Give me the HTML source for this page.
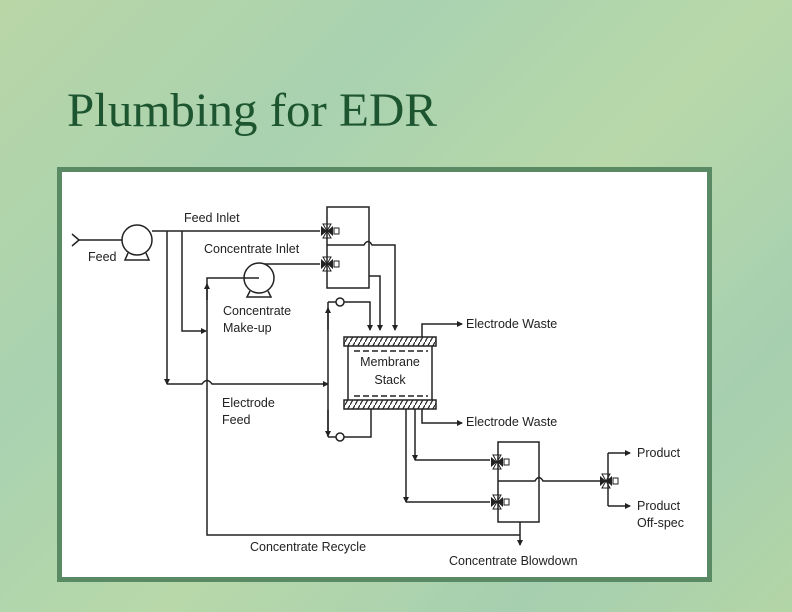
<!DOCTYPE html>
<html><head><style>
html,body{margin:0;padding:0;width:792px;height:612px;overflow:hidden}
body{background:linear-gradient(135deg,#b9d6a6 0%,#a9d2b0 30%,#b8d8a9 55%,#a6cfb0 80%,#b3d5a6 100%)}
</style></head><body>
<svg width="792" height="612" viewBox="0 0 792 612" xmlns="http://www.w3.org/2000/svg" style="position:absolute;left:0;top:0">
<defs>
<pattern id="h" width="5" height="9" patternUnits="userSpaceOnUse"><rect width="5" height="9" fill="#fff"/><line x1="0" y1="9" x2="5" y2="0" stroke="#222" stroke-width="1.2"/></pattern>
<marker id="a" markerWidth="6" markerHeight="6" refX="5" refY="3" orient="auto" markerUnits="userSpaceOnUse"><path d="M0,0 L6,3 L0,6 z" fill="#222"/></marker>
<g id="v"><path d="M-6,-5 L6,5 L6,-5 L-6,5 z" fill="#222"/><path d="M-4,-7 L4,-7 L0,0 z M-4,7 L4,7 L0,0z" fill="none" stroke="#222" stroke-width="1"/><rect x="7" y="-3" width="5" height="6" fill="#fff" stroke="#222"/></g>
</defs>
<text x="67" y="126" font-family="Liberation Serif, serif" font-size="48" fill="#1d5530" textLength="370" lengthAdjust="spacingAndGlyphs">Plumbing for EDR</text>
<rect x="59.5" y="169.5" width="650" height="410" fill="#fff" stroke="#5a8a63" stroke-width="5"/>
<g stroke="#222" stroke-width="1.5" fill="none">
<path d="M72,234 L79,240 L72,246"/><line x1="79" y1="240" x2="137" y2="240"/>
<circle cx="137" cy="240" r="15" fill="#fff"/><path d="M128,253 L125,260 L149,260 L146,253"/>
<line x1="152" y1="231" x2="320" y2="231"/>
<rect x="327" y="207" width="42" height="81"/>
<path d="M327,245 L364,245 Q368,238 372,245 L395,245 L395,330" marker-end="url(#a)"/>
<path d="M369,276 L380,276 L380,330" marker-end="url(#a)"/>
<line x1="259" y1="264" x2="320" y2="264"/>
<circle cx="259" cy="278" r="15" fill="#fff"/><path d="M250,291 L247,297 L271,297 L268,291"/>
<path d="M259,278 L207,278 L207,535 L520,535"/>
<path d="M207,300 L207,284" marker-end="url(#a)"/>
<path d="M182,231 L182,331 L206,331" marker-end="url(#a)"/>
<path d="M167,231 L167,384" marker-end="url(#a)"/>
<path d="M167,384 L202,384 Q207,377 212,384 L328,384" marker-end="url(#a)"/>
<line x1="328" y1="302" x2="328" y2="437"/>
<path d="M328,330 L328,308" marker-end="url(#a)"/><path d="M328,410 L328,436" marker-end="url(#a)"/>
<line x1="328" y1="302" x2="336" y2="302"/><circle cx="340" cy="302" r="4" fill="#fff"/>
<path d="M344,302 L370,302 L370,330" marker-end="url(#a)"/>
<line x1="328" y1="437" x2="336" y2="437"/><circle cx="340" cy="437" r="4" fill="#fff"/>
<path d="M344,437 L371,437 L371,409"/>
<rect x="344" y="337" width="92" height="9" fill="url(#h)"/>
<rect x="344" y="400" width="92" height="9" fill="url(#h)"/>
<line x1="348" y1="346" x2="348" y2="400"/><line x1="432" y1="346" x2="432" y2="400"/>
<path d="M354,351 L428,351 M354,396 L428,396" stroke-dasharray="6,3"/>
<path d="M422,337 L422,324 L462,324" marker-end="url(#a)"/>
<path d="M422,409 L422,423 L462,423" marker-end="url(#a)"/>
<path d="M415,409 L415,460" marker-end="url(#a)"/><line x1="415" y1="460" x2="490" y2="460"/>
<path d="M406,409 L406,502" marker-end="url(#a)"/><line x1="406" y1="502" x2="490" y2="502"/>
<rect x="498" y="442" width="41" height="80"/>
<path d="M498,481 L535,481 Q539,474 543,481 L602,481"/>
<path d="M608,453 L608,506"/><path d="M608,453 L630,453" marker-end="url(#a)"/><path d="M608,506 L630,506" marker-end="url(#a)"/>
<path d="M520,522 L520,545" marker-end="url(#a)"/>
</g>
<use href="#v" x="327" y="231"/><use href="#v" x="327" y="264"/>
<use href="#v" x="497" y="462"/><use href="#v" x="497" y="502"/><use href="#v" x="606" y="481"/>
<g font-family="Liberation Sans, sans-serif" font-size="12.5" fill="#222">
<text x="184" y="222">Feed Inlet</text>
<text x="88" y="261">Feed</text>
<text x="204" y="253">Concentrate Inlet</text>
<text x="223" y="315">Concentrate</text><text x="223" y="332">Make-up</text>
<text x="222" y="407">Electrode</text><text x="222" y="424">Feed</text>
<text x="390" y="366" text-anchor="middle">Membrane</text><text x="390" y="384" text-anchor="middle">Stack</text>
<text x="466" y="328">Electrode Waste</text>
<text x="466" y="426">Electrode Waste</text>
<text x="637" y="457">Product</text>
<text x="637" y="510">Product</text><text x="637" y="527">Off-spec</text>
<text x="250" y="551">Concentrate Recycle</text>
<text x="449" y="565">Concentrate Blowdown</text>
</g>
</svg>
</body></html>
